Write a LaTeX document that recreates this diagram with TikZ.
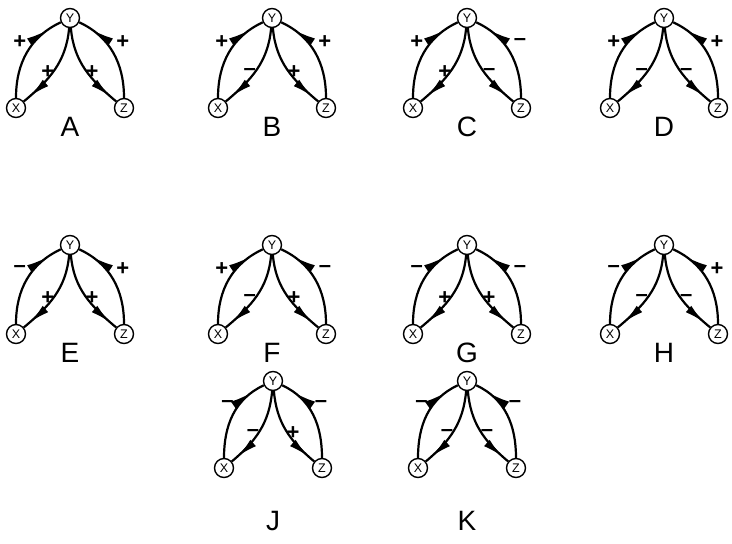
\documentclass[tikz,border=0pt]{standalone}
\usepackage{fontspec}
\setmainfont{Liberation Sans}
\usetikzlibrary{arrows.meta,decorations.markings}
\tikzset{
  pfeil/.tip={Latex[length=16pt,width=5.5pt]},
  knot/.style={circle,draw,line width=1.4pt,inner sep=0pt,minimum size=19pt,
    font=\fontsize{12.5}{12.5}\selectfont},
  bogen/.style={line width=2.2pt},
  spitz/.style={postaction={decorate},decoration={markings,
    mark=at position #1 with {\arrow[scale=1.5]{pfeil}}}},
  zeichen/.style={font=\bfseries\fontsize{22}{22}\selectfont,inner sep=0pt},
  titel/.style={font=\fontsize{28}{28}\selectfont,inner sep=0pt}
}
\begin{document}
\begin{tikzpicture}[x=1pt,y=1pt]
  \useasboundingbox (0,0) rectangle (732,544);
  % Motive: Name / x,y von Y / Breite / Hoehe / Abstand Titel / Vorzeichen
  \foreach \n/\x/\y/\w/\h/\t/\a/\b/\c/\d in {
      A/70/526/54/90/109/+/+/+/+,
      B/272/526/54/90/109/+/--/+/+,
      C/467/526/54/90/109/+/+/--/--,
      D/664/526/54/90/109/+/--/--/+,
      E/70/299/54/89/108/--/+/+/+,
      F/272/299/54/89/108/+/--/+/--,
      G/467/299/54/89/108/--/+/+/--,
      H/664/299/54/89/108/--/--/--/+,
      J/273/163/49/87/140/--/--/+/--,
      K/467/163/49/87/140/--/--/--/--} {
    % Knoten
    \node[knot] (Y\n) at (\x,\y) {Y};
    \node[knot] (X\n) at (\x-\w,\y-\h) {X};
    \node[knot] (Z\n) at (\x+\w,\y-\h) {Z};
    \node[titel] (T\n) at (\x,\y-\t) {\n};
    % Boegen
    \draw[bogen,spitz=0.86] (X\n) to[out=90,in=205] (Y\n);
    \draw[bogen,spitz=0.95] (Y\n) to[out=265,in=40] (X\n);
    \draw[bogen,spitz=0.95] (Y\n) to[out=275,in=140] (Z\n);
    \draw[bogen,spitz=0.86] (Z\n) to[out=90,in=-25] (Y\n);
    % Vorzeichen
    \node[zeichen] (a\n) at (\x-0.93*\w,\y-0.27*\h) {\a};
    \node[zeichen] (b\n) at (\x-0.41*\w,\y-0.6*\h) {\b};
    \node[zeichen] (c\n) at (\x+0.41*\w,\y-0.6*\h) {\c};
    \node[zeichen] (d\n) at (\x+0.98*\w,\y-0.27*\h) {\d};
  }
\end{tikzpicture}
\end{document}
